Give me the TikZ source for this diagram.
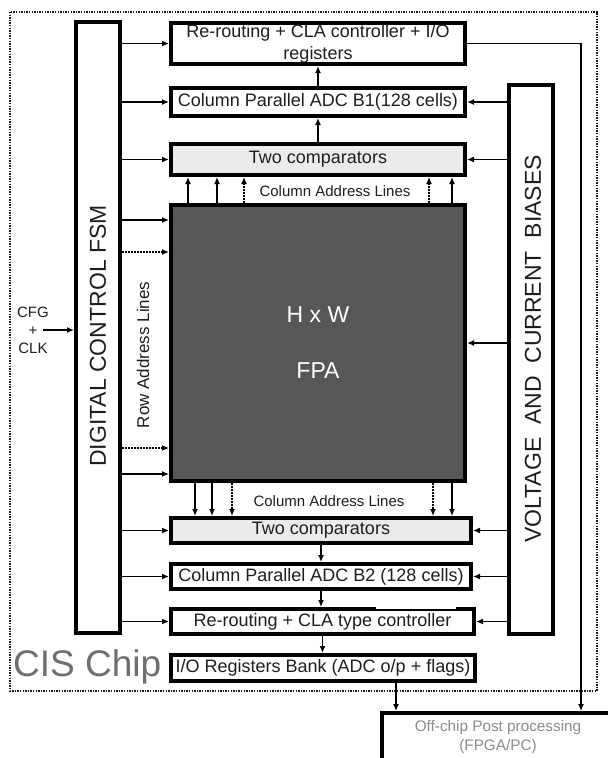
\documentclass[tikz,border=0pt]{standalone}
\usepackage{fontspec}
\setmainfont{Liberation Sans}
\usetikzlibrary{arrows.meta}
\definecolor{fpagray}{HTML}{575757}
\definecolor{cmpgray}{HTML}{EBEBEB}
\definecolor{chipgray}{HTML}{6E6E6E}
\definecolor{offgray}{HTML}{8C8C8C}
\definecolor{inkgray}{HTML}{1E1E1E}
\tikzset{
  blk/.style={draw=black, line width=3.6pt, fill=white, inner sep=0pt, text=inkgray,
    font=\fontsize{18}{22}\selectfont, align=center},
  arr/.style={-{Latex[length=7pt,width=6pt]}, line width=1.3pt},
  dots/.style={dash pattern=on 1.6pt off 1.4pt},
  addr/.style={text=inkgray, inner sep=1pt, font=\fontsize{15}{18}\selectfont},
  big/.style={text=inkgray, inner sep=0pt, font=\fontsize{23}{26}\selectfont},
}
\begin{document}
\begin{tikzpicture}[x=1pt,y=-1pt]
\useasboundingbox (0,0) rectangle (608,758);
% chip outline
\draw[line width=1.8pt, dash pattern=on 1.4pt off 1.2pt, draw=black!90] (10,12) rectangle (597,691);
% blocks
\node[blk, minimum width=294.4pt, minimum height=41.4pt] (topctl) at (318,43.5) {Re-routing + CLA controller + I/O\\registers};
\node[blk, minimum width=294.4pt, minimum height=28.4pt] (adcA) at (318,102) {Column Parallel ADC B1(128 cells)};
\node[blk, fill=cmpgray, minimum width=294.4pt, minimum height=31.4pt] (cmpA) at (318,159.5) {Two comparators};
\node[blk, fill=fpagray, text=white, font=\fontsize{23}{56}\selectfont, minimum width=294.4pt, minimum height=276.4pt] (fpa) at (318,343) {H x W\\FPA};
\node[blk, fill=cmpgray, minimum width=300.4pt, minimum height=25.4pt] (cmpB) at (321,530.5) {Two comparators};
\node[blk, minimum width=300.4pt, minimum height=25.4pt] (adcB) at (321,576.5) {Column Parallel ADC B2 (128 cells)};
\node[blk, minimum width=303.4pt, minimum height=25.4pt] (rrB) at (322.5,621.5) {Re-routing + CLA type controller};
\node[blk, minimum width=304.4pt, minimum height=26.4pt] (iob) at (323,668) {I/O Registers Bank (ADC o/p + flags)};
\fill[white] ([xshift=207pt,yshift=0.5pt]rrB.north west) rectangle ([xshift=-20pt,yshift=-2.1pt]rrB.north east);
\node[blk, minimum width=44.4pt, minimum height=611.4pt] (fsm) at (98,327.5) {};
\node[blk, minimum width=44.4pt, minimum height=549.4pt] (bias) at (531,359.5) {};
\node[big, rotate=90] (fsmtxt) at ([yshift=-8.5pt]fsm.center) {DIGITAL CONTROL FSM};
\node[big, rotate=90] (biastxt) at ([xshift=2pt,yshift=10.5pt]bias.center) {VOLTAGE\ \ AND\ \ CURRENT\ \ BIASES};
\node[blk, minimum width=232.4pt, minimum height=75.4pt] (offchip) at (498,750.5) {};
\node[text=offgray, font=\fontsize{15.3}{19}\selectfont, align=center] (offtxt) at (498,737) {Off-chip Post processing\\(FPGA/PC)};
% labels
\node[addr] (coltop) at (335,191) {Column Address Lines};
\node[addr] (colbot) at (329,501) {Column Address Lines};
\node[addr, rotate=90, font=\fontsize{17}{20}\selectfont] (rowlbl) at (143,355) {Row Address Lines};
\node[addr, align=center] (cfg) at (33,330) {CFG\\+\\CLK};
\node[anchor=base west, inner sep=0pt, text=chipgray, font=\fontsize{37}{40}\selectfont] (chiplbl) at (13,676) {CIS Chip};
% control and bias lines
\foreach \b in {topctl,adcA,cmpA,cmpB,adcB,rrB}
  \draw[arr] (fsm.east |- \b.west) -- (\b.west);
\foreach \b in {adcA,cmpA,fpa,cmpB,adcB,rrB}
  \draw[arr] (bias.west |- \b.east) -- (\b.east);
\draw[arr] ([xshift=10pt]cfg.center) -- (cfg.center -| fsm.west);
% row address lines
\foreach \dy/\ls in {17pt/solid,49pt/dots,245pt/dots,271pt/solid}
  \draw[arr,\ls] ([yshift=-\dy]fsm.east |- fpa.north west) -- ([yshift=-\dy]fpa.north west);
% column address lines
\foreach \dx/\ls in {19pt/solid,48pt/solid,75pt/dots}
  \draw[arr,\ls] ([xshift=\dx]fpa.north west) -- ([xshift=\dx]fpa.north west |- cmpA.south);
\foreach \dx/\ls in {-38pt/dots,-15pt/solid}
  \draw[arr,\ls] ([xshift=\dx]fpa.north east) -- ([xshift=\dx]fpa.north east |- cmpA.south);
\foreach \dx/\ls in {26pt/solid,43pt/solid,63pt/dots}
  \draw[arr,\ls] ([xshift=\dx]fpa.south west) -- ([xshift=\dx]fpa.south west |- cmpB.north);
\foreach \dx/\ls in {-34pt/dots,-15pt/solid}
  \draw[arr,\ls] ([xshift=\dx]fpa.south east) -- ([xshift=\dx]fpa.south east |- cmpB.north);
% data path
\draw[arr] (cmpA.north) -- (adcA.south);
\draw[arr] (adcA.north) -- (topctl.south);
\draw[arr] (cmpB.south) -- (cmpB.south |- adcB.north);
\draw[arr] (adcB.south) -- (adcB.south |- rrB.north);
\draw[arr] (rrB.south) -- (rrB.south |- iob.north);
\coordinate (bend) at (581,43.5);
\draw[arr] (topctl.east) -- (bend) -- (bend |- offchip.north);
\draw[arr] ([xshift=73pt]iob.south) -- ([xshift=73pt]iob.south |- offchip.north);
\end{tikzpicture}
\end{document}
